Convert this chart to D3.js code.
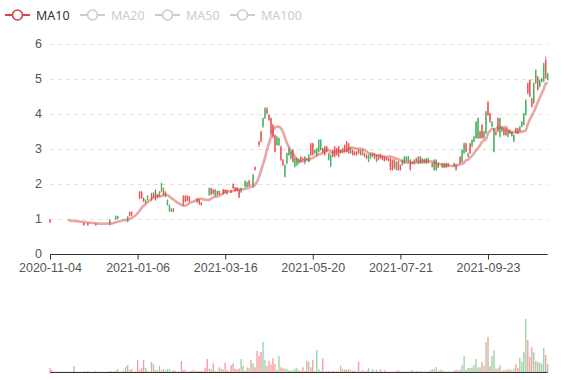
<!DOCTYPE html>
<html><head><meta charset="utf-8">
<script src="https://cdn.jsdelivr.net/npm/d3@7"></script>
<style>
html,body{margin:0;padding:0;background:#fff}
svg{display:block;font-family:"Noto Sans",sans-serif}
</style>
</head><body>
<svg id="chart" width="577" height="380"></svg>
<script>
// ---- data ----
// trading days per month (day numbers)
const tradingMonths = [
  ["2020-11",[4,5,6,9,10,11,12,13,16,17,18,19,20,23,24,25,26,27,30]],
  ["2020-12",[1,2,3,4,7,8,9,10,11,14,15,16,17,18,21,22,23,24,25,28,29,30,31]],
  ["2021-01",[4,5,6,7,8,11,12,13,14,15,18,19,20,21,22,25,26,27,28,29]],
  ["2021-02",[1,2,3,4,5,8,9,10,18,19,22,23,24,25,26]],
  ["2021-03",[1,2,3,4,5,8,9,10,11,12,15,16,17,18,19,22,23,24,25,26,29,30,31]],
  ["2021-04",[1,2,5,6,7,8,9,12,13,14,15,16,19,20,21,22,23,26,27,28,29,30]],
  ["2021-05",[6,7,10,11,12,13,14,17,18,19,20,21,24,25,26,27,28,31]],
  ["2021-06",[1,2,3,4,7,8,9,10,11,14,15,16,17,18,21,22,23,24,25,28,29,30]],
  ["2021-07",[1,2,5,6,7,8,9,12,13,14,15,16,19,20,21,22,23,26,27,28,29,30]],
  ["2021-08",[2,3,4,5,6,9,10,11,12,13,16,17,18,19,20,23,24,25,26,27,30,31]],
  ["2021-09",[1,2,3,6,7,8,9,10,13,14,15,16,17,22,23,24,27,28,29,30]],
  ["2021-10",[8,11,12,13,14,15,18,19,20,21,22,25,26,27,28,29]],
  ["2021-11",[1,2,3,4,5,8,9,10,11]]
];
// [open, close, low, high]; a single number = a day with one price (open=close=low=high)
const ohlcRaw = [
[0.90,0.99,0.88,1.00],0.99,0.98,0.97,0.97,0.96,0.95,0.95,0.94,0.94,
0.93,0.92,0.92,0.91,0.90,0.90,0.89,[0.82,0.89,0.81,0.90],0.88,[0.82,0.88,0.81,0.89],
0.87,0.87,0.86,[0.88,0.82,0.81,0.88],0.85,0.86,0.87,0.88,0.90,0.92,
[0.98,0.84,0.81,0.99],0.96,0.98,[1.09,0.99,0.98,1.10],[1.08,1.00,0.99,1.09],1.00,1.01,1.02,1.03,[1.07,0.92,0.90,1.08],
[1.09,1.20,1.08,1.21],[1.10,1.21,1.09,1.22],1.25,1.40,1.60,[1.59,1.78,1.57,1.80],[1.59,1.78,1.58,1.80],[1.50,1.60,1.48,1.62],[1.54,1.45,1.43,1.56],[1.66,1.55,1.53,1.68],
1.60,[1.54,1.73,1.52,1.75],[1.75,1.62,1.60,1.77],[1.54,1.83,1.52,1.85],[1.60,1.70,1.58,1.72],[1.78,1.64,1.62,1.80],[2.02,1.78,1.76,2.04],[1.69,1.88,1.67,1.90],[1.78,1.64,1.62,1.80],[1.54,1.40,1.38,1.56],
[1.40,1.22,1.20,1.42],[1.30,1.21,1.20,1.31],[1.21,1.30,1.20,1.31],1.30,1.32,1.35,1.40,[1.40,1.66,1.38,1.68],[1.50,1.66,1.48,1.68],[1.52,1.66,1.50,1.68],
[1.50,1.65,1.48,1.66],1.50,1.50,1.52,[1.48,1.59,1.46,1.60],[1.42,1.56,1.40,1.58],[1.40,1.47,1.38,1.48],1.50,1.55,1.60,
[1.88,1.68,1.66,1.90],[1.70,1.88,1.68,1.90],[1.72,1.84,1.70,1.86],[1.84,1.66,1.64,1.86],[1.80,1.70,1.68,1.81],[1.70,1.80,1.68,1.81],1.75,[1.72,1.84,1.70,1.86],[1.75,1.84,1.74,1.85],[1.72,1.82,1.70,1.84],
1.80,[1.75,1.82,1.74,1.83],[1.88,2.00,1.86,2.02],[1.80,1.90,1.78,1.92],[1.80,1.90,1.78,1.91],[1.61,1.83,1.60,1.85],[1.88,1.76,1.75,1.90],1.85,[2.09,1.92,1.90,2.10],[2.05,1.92,1.90,2.07],
[1.95,2.10,1.94,2.12],2.10,[2.26,1.95,1.90,2.30],[2.40,2.49,2.38,2.50],2.75,[3.11,3.21,3.05,3.23],[3.21,3.50,3.20,3.52],[3.88,3.64,3.60,3.90],[4.16,3.88,3.85,4.20],[4.02,4.16,4.00,4.20],
[3.83,3.97,3.80,4.00],[3.45,3.88,3.40,3.90],[3.35,3.69,3.30,3.72],[2.92,3.40,2.90,3.42],[3.35,3.11,3.10,3.38],[3.31,3.11,3.08,3.32],[2.69,3.07,2.65,3.10],[2.54,2.69,2.52,2.72],[2.54,2.21,2.18,2.56],[2.88,2.59,2.56,2.90],
[3.02,2.83,2.80,3.05],[2.92,2.73,2.70,2.95],[2.64,2.97,2.60,3.00],[2.73,2.50,2.47,2.75],[2.73,2.55,2.50,2.75],[2.70,2.60,2.55,2.73],[2.64,2.78,2.62,2.80],[2.69,2.73,2.66,2.75],[2.78,2.60,2.55,2.80],[2.69,2.73,2.66,2.75],
[2.83,2.64,2.62,2.85],[2.83,3.16,2.80,3.18],[2.83,3.16,2.82,3.18],[2.97,2.88,2.86,2.98],[3.02,2.83,2.80,3.04],[3.26,2.92,2.90,3.28],[3.26,2.97,2.95,3.28],[2.90,3.02,2.88,3.04],[2.83,3.07,2.81,3.09],[2.92,3.07,2.90,3.09],
[2.88,2.69,2.67,2.90],[2.83,2.50,2.48,2.85],[2.78,2.97,2.76,2.99],[2.78,3.07,2.76,3.09],[2.83,3.02,2.81,3.04],[2.78,3.07,2.76,3.09],[2.97,2.88,2.86,2.99],[2.90,3.02,2.88,3.04],[2.92,3.11,2.90,3.13],[2.92,3.21,2.90,3.23],
[2.88,3.16,2.86,3.18],[3.02,2.88,2.86,3.04],[2.83,2.97,2.81,2.99],[2.83,2.92,2.81,2.94],[2.83,2.92,2.81,2.94],[2.88,2.97,2.86,2.99],[2.83,2.97,2.81,2.99],[2.97,2.83,2.81,2.99],[2.78,2.88,2.76,2.90],[2.73,2.83,2.71,2.85],
[2.83,2.64,2.62,2.85],[2.88,2.73,2.71,2.90],[2.78,2.88,2.76,2.90],[2.73,2.85,2.71,2.87],[2.83,2.64,2.62,2.85],[2.69,2.83,2.67,2.85],[2.73,2.85,2.71,2.87],[2.69,2.80,2.67,2.82],[2.66,2.78,2.64,2.80],[2.69,2.75,2.67,2.77],
[2.66,2.73,2.64,2.75],[2.40,2.73,2.38,2.75],[2.40,2.69,2.38,2.71],[2.45,2.69,2.43,2.71],[2.64,2.40,2.38,2.66],[2.40,2.64,2.38,2.66],[2.40,2.54,2.38,2.56],[2.69,2.54,2.52,2.71],[2.78,2.59,2.57,2.80],[2.78,2.64,2.62,2.80],
[2.78,2.64,2.62,2.80],[2.40,2.69,2.38,2.71],[2.59,2.64,2.57,2.66],[2.69,2.59,2.57,2.71],[2.64,2.73,2.62,2.75],[2.78,2.59,2.57,2.80],[2.59,2.78,2.57,2.80],[2.73,2.59,2.57,2.75],[2.60,2.70,2.58,2.72],[2.73,2.59,2.57,2.75],
[2.73,2.60,2.58,2.75],2.60,[2.49,2.59,2.47,2.61],[2.69,2.40,2.38,2.71],[2.69,2.40,2.38,2.71],[2.47,2.59,2.45,2.61],2.55,[2.59,2.47,2.45,2.61],[2.47,2.59,2.45,2.61],[2.59,2.47,2.45,2.61],
[2.50,2.59,2.48,2.61],2.55,2.55,[2.59,2.50,2.48,2.61],[2.40,2.54,2.38,2.56],2.58,[2.59,2.78,2.57,2.80],[2.97,2.64,2.62,2.99],[3.16,2.88,2.86,3.18],[2.92,3.16,2.90,3.18],
[2.88,2.78,2.76,2.90],[2.88,3.16,2.86,3.18],[3.26,3.07,3.05,3.28],[3.35,3.21,3.19,3.37],[3.78,3.31,3.29,3.80],[3.88,3.31,3.29,3.90],[3.31,3.50,3.29,3.52],[3.31,3.69,3.29,3.71],[3.50,3.31,3.29,3.52],[4.07,3.45,3.43,4.09],
[3.97,4.35,3.95,4.37],[3.78,4.02,3.76,4.04],[3.78,3.64,3.62,3.80],[3.59,2.92,2.90,3.61],[3.40,3.50,3.38,3.52],[3.50,3.88,3.48,3.90],[3.88,3.35,3.33,3.90],[3.64,3.50,3.48,3.66],[3.40,3.59,3.38,3.61],[3.40,3.59,3.38,3.61],
[3.54,3.35,3.33,3.56],[3.45,3.54,3.43,3.56],[3.50,3.37,3.35,3.52],[3.40,3.21,3.19,3.42],[3.45,3.59,3.43,3.61],[3.45,3.59,3.43,3.61],[3.64,3.50,3.48,3.66],[3.78,3.64,3.62,3.80],[4.02,3.69,3.67,4.04],[4.40,3.97,3.95,4.42],
[4.59,4.88,4.57,4.90],[4.50,4.97,4.48,4.99],[4.21,4.45,4.19,4.47],[4.88,4.31,4.29,4.90],[5.26,4.88,4.86,5.28],[4.69,5.07,4.67,5.09],[4.97,4.78,4.76,4.99],[5.02,4.92,4.90,5.04],[5.45,4.93,4.91,5.47],[5.02,5.54,5.00,5.64],
[5.16,4.97,4.95,5.18]
];
const volumes = [
4,2,0.3,0.3,0.3,0.3,0.3,0.3,0.3,0.3,
0.3,0.3,6,0.3,0.3,0.3,0.3,1,0.3,1,
0.3,0.3,0.3,1.3,0.3,0.3,0.7,0.3,0.3,0.5,
1,1,0.5,1.5,3,0.5,0.5,1.5,5,7,
2,3,0.5,0.5,12,2,4,12,4,1.5,
0.5,10,8,2,1.5,6,1.5,3,1.5,3,
3,1,2,1,0.5,0.5,11,2,2,0.5,
0.5,1,2,1,1,1,1,1,4,13,
3,2.7,8.7,1,1,4.7,3.3,2.7,9.3,2,
1,7,8.7,3.3,2.7,3.7,13,6.3,1,4.7,
3.7,12,8.7,4.7,21,16,20,30,12,6,
11.3,7.7,13.7,8,2,16,4.7,3.7,3.3,3.3,
1.7,1,1.7,3.3,3.7,2,1,4.7,1,11.3,
10.3,4.7,12,1,22,2.7,1,13.7,0.5,1,
1,0.5,1,0.5,1,0.5,6.3,2.7,2.7,2,
3,1.7,1.3,1.3,0.5,10.3,0.5,2,0.5,1.3,
3.7,0.5,2.7,0.5,2,0.5,3,0.5,1.7,0.5,
0.5,0.5,0.5,0.5,1,2,0.5,0.5,0.5,0.5,
0.5,0.5,2,0.5,1,0.5,1,0.5,0.5,0.5,
0.5,1.7,2.7,2.7,5,1,2.3,1.7,1,0.5,
0.5,0.5,0.5,1.7,2,1.7,2,6.7,16,2,
4,4,4.7,6.7,13,4.7,4.7,9.7,6.7,29.7,
35,6,16,21.7,3.3,3.7,6.7,1.3,1.7,2,
2.7,2.7,1.7,3.3,7.7,4.3,14.3,10,20,53,
32,15,24.7,19.7,11,10,9.3,8.3,24,17,
8
];
const priceTicks = [0,1,2,3,4,5,6];
const dateTickLabels = ["2020-11-04","2021-01-06","2021-03-16","2021-05-20","2021-07-21","2021-09-23"];
const legendNames = ["MA10","MA20","MA50","MA100"];
const activeSeries = ["MA10"];

// ---- build ----
const dates = [];
tradingMonths.forEach(([m, days]) => days.forEach(d => dates.push(m + "-" + String(d).padStart(2,"0"))));
const ohlc = ohlcRaw.map(v => typeof v === "number" ? [v,v,v,v] : v);
const closes = ohlc.map(d => d[1]);
function calcMA(n){
  return closes.map((c,i) => {
    if (i < n - 1) return null;
    let s = 0; for (let j = 0; j < n; j++) s += closes[i-j];
    return s / n;
  });
}
const ma10 = calcMA(10);
const isUp = ohlc.map((d,i) => d[1] > d[0] ? true : d[1] < d[0] ? false : (i > 0 ? d[1] >= ohlc[i-1][1] : true));

const UP = "#eb5454", DOWN = "#47b262";
const AXIS_FONT = '"Liberation Sans",Arial,sans-serif';
const svg = d3.select("#chart");
const left = 50, right = 547.7;
const x = d3.scalePoint().domain(dates).range([left, right]);
const y = d3.scaleLinear().domain([0, 6]).range([254, 44]);
const yv = d3.scaleLinear().domain([0, 70]).range([372, 302]);

// grid
svg.append("g").selectAll("line").data(priceTicks.filter(t => t > 0)).join("line")
  .attr("x1", left).attr("x2", right).attr("y1", d => y(d)+0.5).attr("y2", d => y(d)+0.5)
  .attr("stroke", "#e0e0e0").attr("stroke-dasharray", "4,4");
// y labels
svg.append("g").selectAll("text").data(priceTicks).join("text")
  .attr("x", 42).attr("y", d => y(d) + 3.8).attr("text-anchor", "end")
  .attr("font-family", AXIS_FONT).attr("font-size", 12.5).attr("fill", "#555").text(d => d);

// x axis
const xAxis = d3.axisBottom(x).tickValues(dateTickLabels).tickSize(5).tickPadding(3);
const gx = svg.append("g").attr("transform", "translate(0,254.5)").call(xAxis);
gx.select(".domain").attr("stroke", "#333").attr("d", `M${left},0H${right}`);
gx.selectAll(".tick line").attr("stroke", "#333");
gx.selectAll(".tick text").attr("font-size", 12.5).attr("fill", "#555")
  .attr("font-family", AXIS_FONT).attr("dy", null).attr("y", 17.3);

// candles
const cw = 1.4;
const candles = svg.append("g");
ohlc.forEach((d, i) => {
  if (d[3] === d[2]) return;
  const cx = x(dates[i]);
  const col = isUp[i] ? UP : DOWN;
  candles.append("line").attr("x1", cx).attr("x2", cx).attr("y1", y(d[3])).attr("y2", y(d[2]))
    .attr("stroke", col).attr("stroke-width", 0.8);
  const top = y(Math.max(d[0], d[1])), bot = y(Math.min(d[0], d[1]));
  candles.append("rect").attr("x", cx - cw/2).attr("y", top).attr("width", cw)
    .attr("height", Math.max(1, bot - top)).attr("fill", col);
});

// MA10 line
const maLine = d3.line().defined(d => d[1] !== null)
  .x(d => x(d[0])).y(d => y(d[1])).curve(d3.curveMonotoneX);
svg.append("path").datum(dates.map((dt,i) => [dt, ma10[i]]))
  .attr("d", maLine).attr("fill", "none").attr("stroke", "#d64b4b")
  .attr("stroke-opacity", 0.5).attr("stroke-width", 2.6);

// volume
const bw = 1.4;
svg.append("g").selectAll("rect").data(volumes).join("rect")
  .attr("x", (v,i) => x(dates[i]) - bw/2).attr("y", v => yv(v))
  .attr("width", bw).attr("height", v => yv(0) - yv(v))
  .attr("fill", (v,i) => isUp[i] ? UP : DOWN).attr("fill-opacity", 0.55);
svg.append("line").attr("x1", left).attr("x2", right).attr("y1", 372.5).attr("y2", 372.5)
  .attr("stroke", "#333").attr("stroke-width", 1);

// legend
const legendX = [5, 80, 155, 230];
const lg = svg.append("g");
legendNames.forEach((name, k) => {
  const on = activeSeries.includes(name);
  const col = on ? "#d14545" : "#cccccc";
  const x0 = legendX[k];
  lg.append("line").attr("x1", x0).attr("x2", x0 + 25).attr("y1", 15).attr("y2", 15)
    .attr("stroke", col).attr("stroke-width", 2);
  lg.append("circle").attr("cx", x0 + 12.5).attr("cy", 15).attr("r", 5)
    .attr("fill", "#fff").attr("stroke", col).attr("stroke-width", 1.6);
  lg.append("text").attr("x", x0 + 31).attr("y", 19.5).attr("font-size", 12.5)
    .attr("fill", on ? "#333" : "#ccc").text(name);
});
</script>
</body></html>
